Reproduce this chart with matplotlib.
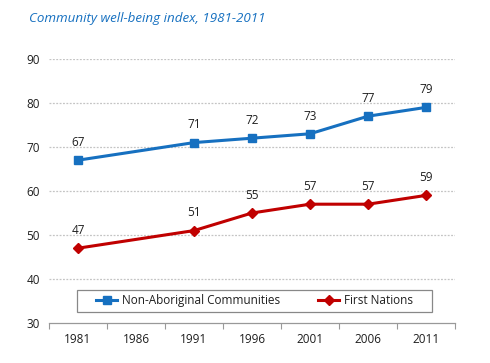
import matplotlib
matplotlib.use("Agg")
import matplotlib.pyplot as plt
from matplotlib.patches import Rectangle
import numpy as np

years = ["1981", "1986", "1991", "1996", "2001", "2006", "2011"]
data_years = ["1981", "1991", "1996", "2001", "2006", "2011"]
non_aboriginal = [67, 71, 72, 73, 77, 79]
first_nations = [47, 51, 55, 57, 57, 59]
yticks = [30, 40, 50, 60, 70, 80, 90]

BLUE = "#1670c0"
RED = "#c00000"
GRID = "#c4c4c4"
TXT = "#1f1f1f"

plt.rcParams.update({"font.family": ["Open Sans", "DejaVu Sans"], "font.size": 8.5})

fig = plt.figure(figsize=(4.9, 3.63), dpi=100)
ax = fig.add_axes([0.1, 0.1102, 0.8286, 0.7273])

xpos = [years.index(y) for y in data_years]
ax.plot(xpos, non_aboriginal, color=BLUE, linewidth=2.2, marker="s", markersize=6,
        label="Non-Aboriginal Communities", zorder=3)
ax.plot(xpos, first_nations, color=RED, linewidth=2.2, marker="D", markersize=5,
        label="First Nations", zorder=3)

for series in (non_aboriginal, first_nations):
    for x, v in zip(xpos, series):
        ax.annotate(str(v), (x, v), xytext=(0, 8), textcoords="offset points",
                    ha="center", va="bottom", color=TXT, fontsize=8.5)

ax.set_xlim(-0.5, len(years) - 0.5)
ax.set_ylim(30, 90)
ax.set_yticks(yticks)
ax.set_xticks(range(len(years)))
ax.set_xticklabels(years)
ax.set_xticks(np.arange(-0.5, len(years)), minor=True)
ax.tick_params(axis="x", which="major", length=0, pad=7, colors=TXT)
ax.tick_params(axis="x", which="minor", length=4, width=0.8, color="#999999", direction="out")
ax.tick_params(axis="y", length=0, pad=6.5, colors=TXT)

for v in yticks[1:]:
    ax.axhline(v, color=GRID, linewidth=0.9, linestyle=(0, (1.5, 1.2)), zorder=1)

for s in ["left", "right", "top"]:
    ax.spines[s].set_visible(False)
ax.spines["bottom"].set_color("#999999")
ax.spines["bottom"].set_linewidth(0.9)

# legend box (Excel style, entries centred inside a wider frame)
ax.add_patch(Rectangle((0.069, 0.042), 0.874, 0.083, transform=ax.transAxes,
                       facecolor="white", edgecolor="#888888", linewidth=0.9, zorder=4))
leg = ax.legend(loc="center", bbox_to_anchor=(0.506, 0.0835), ncol=2,
                frameon=False, fontsize=8.5, handlelength=1.8, columnspacing=3.2,
                borderpad=0.0, handletextpad=0.4)
leg.set_zorder(5)
for t in leg.get_texts():
    t.set_color(TXT)

fig.text(0.059, 0.948, "Community well-being index, 1981-2011", color=BLUE,
         fontsize=9.6, style="italic", ha="left", va="center")

fig.savefig("out.png", dpi=100)
